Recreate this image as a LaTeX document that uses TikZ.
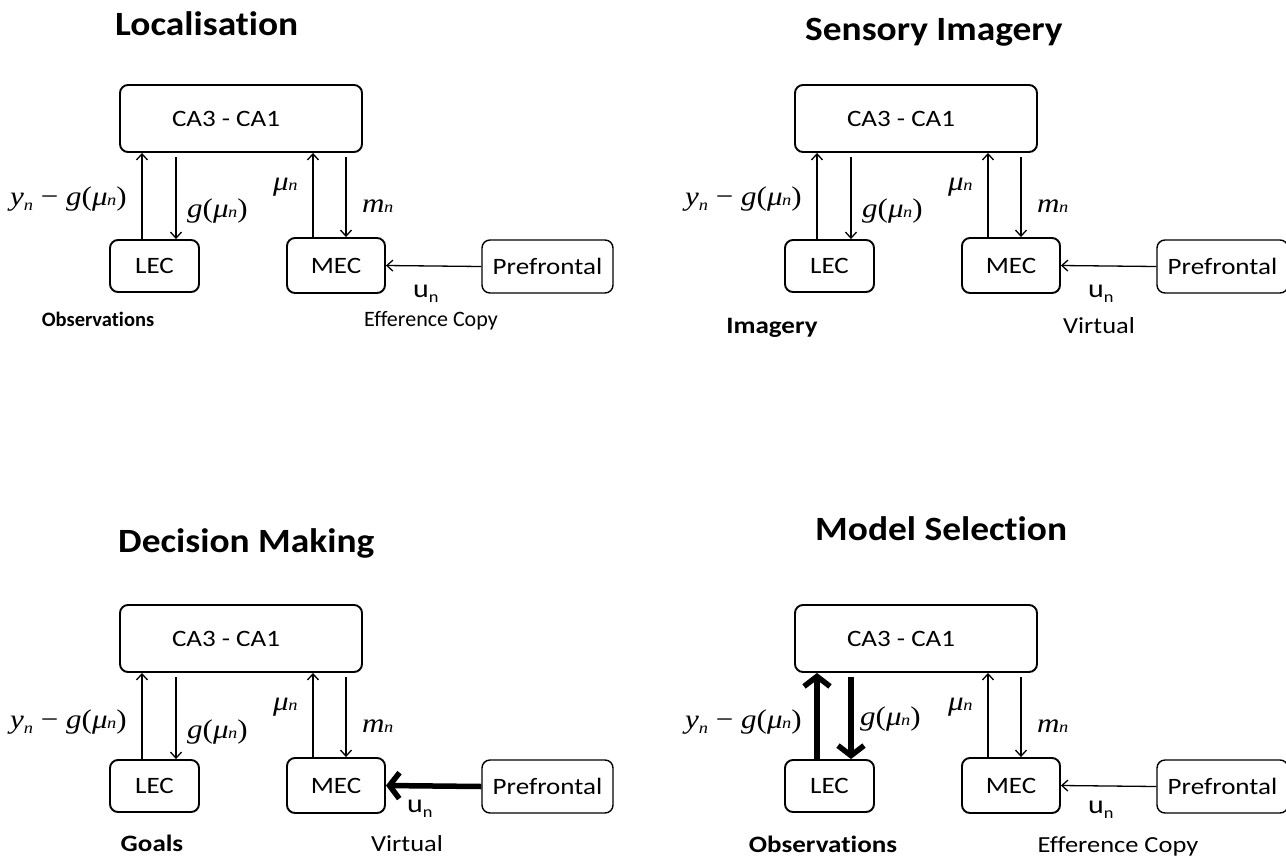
\documentclass[tikz,border=0pt]{standalone}
\usepackage{fontspec}
\setmainfont{Carlito}[FakeStretch=1.15,Ligatures=NoCommon]
\newfontfamily\ttlfont{Carlito}[FakeStretch=1.1,Ligatures=NoCommon]
\newfontfamily\plainfont{Carlito}[Ligatures=NoCommon]
\newfontfamily\mfont{Liberation Serif}[FakeStretch=1.15]
\usetikzlibrary{arrows.meta}

\tikzset{
  box/.style={draw, line width=1.9pt, rounded corners=8pt, inner sep=0pt, font=\fontsize{23.5}{27}\selectfont},
  pbox/.style={draw, line width=1.4pt, rounded corners=8pt, inner sep=0pt, font=\fontsize{23.5}{27}\selectfont},
  thinarr/.style={line width=1.3pt, -{Straight Barb[length=6pt,width=11pt]}},
  thickarr/.style={line width=5.5pt, -{Straight Barb[length=10pt,width=26pt]}},
  ttl/.style={font=\fontsize{34}{40}\selectfont\ttlfont\bfseries, anchor=base west, inner sep=0pt},
  sub/.style={font=\fontsize{23}{27}\selectfont, anchor=base, inner sep=0pt},
  subb/.style={font=\fontsize{23.5}{27}\selectfont\bfseries, anchor=base, inner sep=0pt},
  ml/.style={font=\fontsize{27}{31}\selectfont\mfont, anchor=base west, inner sep=0pt},
  ulb/.style={font=\fontsize{26}{30}\selectfont, anchor=base west, inner sep=0pt},
}

\newcommand\smn{{\fontsize{16}{16}\selectfont\itshape n}}
\newcommand\mun{{\itshape μ}\kern-0.5pt\smn}
\newcommand\yn{{\itshape y}\raisebox{-5pt}{\smn}}
\newcommand\gmu{{\itshape g}(\mun)}
\newcommand\ulab{u\raisebox{-5pt}{\fontsize{16}{16}\selectfont n}}

% #1 prefix, #2 style LEC arrows, #3 style prefrontal arrow
\newcommand\core[3]{%
  \node[box, minimum width=242pt, minimum height=67pt] (#1ca) at (241,118.5) {CA3 - CA1\kern30pt};
  \node[box, minimum width=89pt, minimum height=52pt] (#1lec) at (154.5,266) {LEC};
  \node[box, minimum width=98pt, minimum height=55pt] (#1mec) at (336,265.5) {MEC};
  \node[pbox, minimum width=131pt, minimum height=53pt] (#1pf) at (547.5,266.5) {Prefrontal};
  \coordinate (#1xa) at (142,0);
  \coordinate (#1xb) at (176,0);
  \coordinate (#1xc) at (313,0);
  \coordinate (#1xd) at (346,0);
  \coordinate (#1cs) at ([yshift=-4pt]#1ca.south);
  \draw[#2] (#1lec.north -| #1xa) -- (#1ca.south -| #1xa);
  \draw[#2] (#1cs -| #1xb) -- (#1lec.north -| #1xb);
  \draw[thinarr] (#1mec.north -| #1xc) -- (#1ca.south -| #1xc);
  \draw[thinarr] (#1cs -| #1xd) -- (#1mec.north -| #1xd);
  \draw[#3] (#1pf.west) -- (#1mec.east);
  \node[ml] (#1lm) at (273,190) {\mun};
  \node[ml] (#1lmm) at (362,212) {{\itshape m}\kern-0.5pt\smn};
}

\begin{document}
\begin{tikzpicture}[x=1pt,y=-1pt]
\useasboundingbox (0,0) rectangle (1286,860);

% ---------- Localisation (top left) ----------
\begin{scope}
  \node[ttl] (t1) at (115,35) {Localisation};
  \core{a}{thinarr}{thinarr}
  \node[ml] (a1) at (10,205) {\yn\ − \gmu};
  \node[ml] (a2) at (187,217) {\gmu};
  \node[ulb] (au) at (413,297) {\ulab};
  \node[anchor=base, inner sep=0pt, font=\fontsize{20.5}{24}\selectfont\plainfont\bfseries] (as1) at (98,326) {Observations};
  \node[anchor=base, inner sep=0pt, font=\fontsize{22}{26}\selectfont\plainfont] (as2) at (431,326) {Efference Copy};
\end{scope}

% ---------- Sensory Imagery (top right) ----------
\begin{scope}[shift={(675,0)}]
  \node[ttl] (t2) at (130,40) {Sensory Imagery};
  \core{b}{thinarr}{thinarr}
  \node[ml] (b1) at (10,205) {\yn\ − \gmu};
  \node[ml] (b2) at (187,217) {\gmu};
  \node[ulb] (bu) at (413,297) {\ulab};
  \node[subb] (bs1) at (97,333) {Imagery};
  \node[sub] (bs2) at (424,333) {Virtual};
\end{scope}

% ---------- Decision Making (bottom left) ----------
\begin{scope}[shift={(0,520)}]
  \node[ttl] (t3) at (118,32) {Decision Making};
  \core{c}{thinarr}{thickarr}
  \node[ml] (c1) at (10,208) {\yn\ − \gmu};
  \node[ml] (c2) at (187,218) {\gmu};
  \node[ulb] (cu) at (407,292) {\ulab};
  \node[subb] (cs1) at (152,331) {Goals};
  \node[sub] (cs2) at (407,331) {Virtual};
\end{scope}

% ---------- Model Selection (bottom right) ----------
\begin{scope}[shift={(675,520)}]
  \node[ttl] (t4) at (140,20) {Model Selection};
  \core{d}{thickarr}{thinarr}
  \node[ml] (d1) at (10,208) {\yn\ − \gmu};
  \node[ml] (d2) at (185,205) {\gmu};
  \node[ulb] (du) at (413,293) {\ulab};
  \node[subb] (ds1) at (148,332) {Observations};
  \node[sub] (ds2) at (443,332) {Efference Copy};
\end{scope}
\end{tikzpicture}
\end{document}
